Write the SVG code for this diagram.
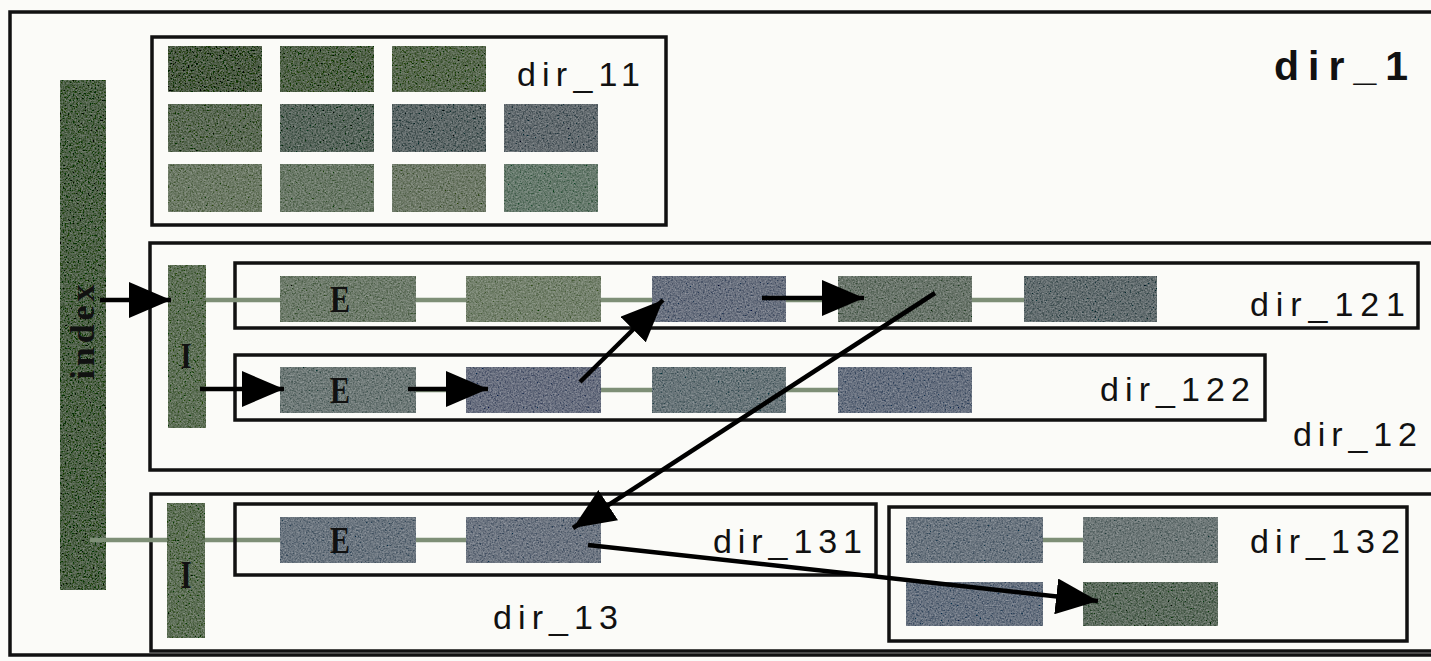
<svg xmlns="http://www.w3.org/2000/svg" width="1431" height="661" viewBox="0 0 1431 661">
<defs>
<style>
.box{fill:none;stroke:#111;stroke-width:3.5}
.lbl{font-family:"Liberation Sans",Arial,sans-serif;font-size:34px;fill:#111}
.lblb{font-family:"Liberation Sans",Arial,sans-serif;font-size:41px;font-weight:bold;fill:#111}
.ser{font-family:"Liberation Serif","Times New Roman",serif;font-weight:bold;fill:#111}
.t{filter:url(#tex)}
.link{stroke:#7e8f77;stroke-width:4.5;fill:none}
.arr{stroke:#000;stroke-width:4.5;fill:none;marker-end:url(#ah)}
</style>
<filter id="tex" x="0" y="0" width="100%" height="100%">
<feTurbulence type="fractalNoise" baseFrequency="0.6" numOctaves="3" seed="4" result="n"/>
<feColorMatrix in="n" type="matrix" values="0.33 0.33 0.33 0 0 0.33 0.33 0.33 0 0 0.33 0.33 0.33 0 0 0 0 0 0 1" result="g"/>
<feComposite in="SourceGraphic" in2="g" operator="arithmetic" k1="0" k2="1" k3="0.6" k4="-0.3" result="m"/>
<feComposite in="m" in2="SourceAlpha" operator="in"/>
</filter>
<marker id="ah" viewBox="0 0 10 10" refX="10" refY="5" markerUnits="userSpaceOnUse" markerWidth="42" markerHeight="36" orient="auto" preserveAspectRatio="none">
<path d="M0,0 L10,5 L0,10 z" fill="#000"/>
</marker>
</defs>
<rect width="1431" height="661" fill="#fbfbf8"/>

<g id="dir_1">
<rect class="box" x="10" y="12" width="1430" height="643"/>
<text class="lblb" x="1274" y="80" textLength="134" lengthAdjust="spacing">dir_1</text>
</g>

<g id="index">
<rect class="t" x="60" y="80" width="46" height="510" fill="#4f6149"/>
<text class="ser" font-size="34" transform="translate(94,332) rotate(-90)" text-anchor="middle" textLength="95" lengthAdjust="spacing">index</text>
</g>

<g id="dir_11">
<rect class="box" x="152" y="37" width="514" height="188"/>
<rect class="t" x="168" y="46" width="94" height="46" fill="#4c5b45"/>
<rect class="t" x="280" y="46" width="94" height="46" fill="#53634c"/>
<rect class="t" x="392" y="46" width="94" height="46" fill="#596951"/>
<rect class="t" x="168" y="104" width="94" height="48" fill="#5c6a56"/>
<rect class="t" x="280" y="104" width="94" height="48" fill="#5a675e"/>
<rect class="t" x="392" y="104" width="94" height="48" fill="#5e6868"/>
<rect class="t" x="504" y="104" width="94" height="48" fill="#646c70"/>
<rect class="t" x="168" y="164" width="94" height="48" fill="#6d7a66"/>
<rect class="t" x="280" y="164" width="94" height="48" fill="#6b7968"/>
<rect class="t" x="392" y="164" width="94" height="48" fill="#707b6a"/>
<rect class="t" x="504" y="164" width="94" height="48" fill="#687b6e"/>
<text class="lbl" x="517" y="86" textLength="123" lengthAdjust="spacing">dir_11</text>
</g>

<g id="dir_12">
<rect class="box" x="150" y="243" width="1290" height="227"/>
<rect class="t" x="168" y="265" width="38" height="163" fill="#5f7058"/>
<text class="ser" font-size="36" x="186" y="368" text-anchor="middle" textLength="11" lengthAdjust="spacingAndGlyphs">I</text>
<text class="lbl" x="1293" y="446" textLength="124" lengthAdjust="spacing">dir_12</text>
</g>

<g id="dir_121">
<rect class="box" x="235" y="263" width="1183" height="65"/>
<line class="link" x1="206" y1="300" x2="1024" y2="300"/>
<rect class="t" x="280" y="276" width="136" height="46" fill="#6f7c6c"/>
<rect class="t" x="466" y="276" width="135" height="46" fill="#75826e"/>
<rect class="t" x="652" y="276" width="134" height="46" fill="#6b7280"/>
<rect class="t" x="838" y="276" width="134" height="46" fill="#6b766c"/>
<rect class="t" x="1024" y="276" width="133" height="46" fill="#646e70"/>
<text class="ser" font-size="37" x="340" y="312" text-anchor="middle" textLength="20" lengthAdjust="spacingAndGlyphs">E</text>
<text class="lbl" x="1250" y="316" textLength="155" lengthAdjust="spacing">dir_121</text>
</g>

<g id="dir_122">
<rect class="box" x="235" y="355" width="1030" height="65"/>
<line class="link" x1="416" y1="390" x2="838" y2="390"/>
<rect class="t" x="280" y="367" width="136" height="46" fill="#6f7a78"/>
<rect class="t" x="466" y="367" width="135" height="46" fill="#6a7080"/>
<rect class="t" x="652" y="367" width="134" height="46" fill="#6a767a"/>
<rect class="t" x="838" y="367" width="134" height="46" fill="#687180"/>
<text class="ser" font-size="37" x="340" y="403" text-anchor="middle" textLength="20" lengthAdjust="spacingAndGlyphs">E</text>
<text class="lbl" x="1100" y="401" textLength="150" lengthAdjust="spacing">dir_122</text>
</g>

<g id="dir_13">
<rect class="box" x="151" y="494" width="1290" height="157"/>
<line class="link" x1="90" y1="540" x2="280" y2="540"/>
<rect class="t" x="167" y="503" width="38" height="135" fill="#5f7058"/>
<text class="ser" font-size="40" x="186" y="588" text-anchor="middle" textLength="11" lengthAdjust="spacingAndGlyphs">I</text>
<text class="lbl" x="493" y="629" textLength="125" lengthAdjust="spacing">dir_13</text>
</g>

<g id="dir_131">
<rect class="box" x="235" y="504" width="641" height="71"/>
<line class="link" x1="416" y1="540" x2="466" y2="540"/>
<rect class="t" x="280" y="517" width="136" height="46" fill="#6c7680"/>
<rect class="t" x="466" y="517" width="135" height="46" fill="#6e7682"/>
<text class="ser" font-size="37" x="340" y="553" text-anchor="middle" textLength="20" lengthAdjust="spacingAndGlyphs">E</text>
<text class="lbl" x="713" y="553" textLength="149" lengthAdjust="spacing">dir_131</text>
</g>

<g id="dir_132">
<rect class="box" x="889" y="507" width="518" height="134"/>
<line class="link" x1="1043" y1="540" x2="1083" y2="540"/>
<rect class="t" x="906" y="517" width="137" height="46" fill="#6c7680"/>
<rect class="t" x="1083" y="517" width="135" height="46" fill="#6e7878"/>
<rect class="t" x="906" y="582" width="137" height="44" fill="#687280"/>
<rect class="t" x="1083" y="582" width="135" height="44" fill="#5f6d60"/>
<text class="lbl" x="1250" y="553" textLength="150" lengthAdjust="spacing">dir_132</text>
</g>

<g id="connectors">
<line class="arr" x1="100" y1="300" x2="171" y2="300"/>
<line class="arr" x1="200" y1="389" x2="284" y2="389"/>
<line class="arr" x1="408" y1="389" x2="488" y2="389"/>
<line class="arr" x1="580" y1="382" x2="663" y2="300"/>
<line class="arr" x1="762" y1="298" x2="864" y2="298"/>
<line class="arr" x1="935" y1="293" x2="573" y2="528"/>
<line class="arr" x1="588" y1="545" x2="1098" y2="601"/>
</g>
</svg>
